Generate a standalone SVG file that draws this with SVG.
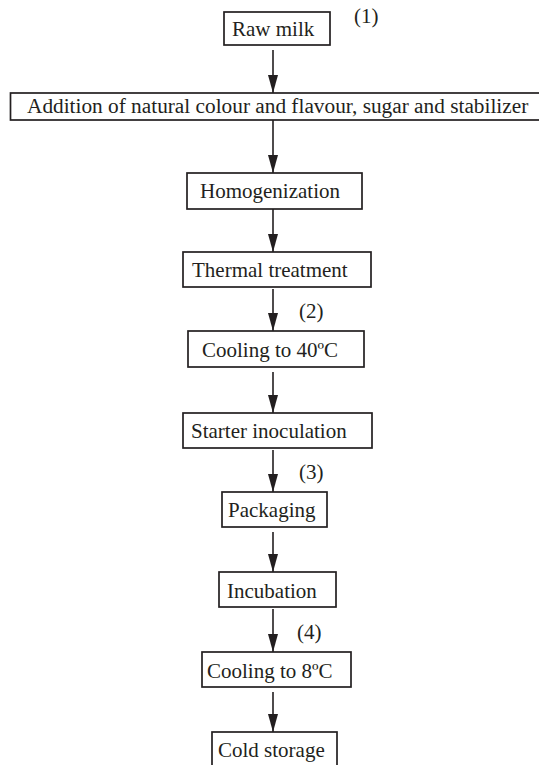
<svg xmlns="http://www.w3.org/2000/svg" width="539" height="765" viewBox="0 0 539 765">
<defs>
<style>
.box{fill:#fff;stroke:#231f20;stroke-width:1.7}
.t{font-family:"Liberation Serif","Times New Roman",serif;font-size:21px;fill:#231f20}
.c{stroke:#231f20;stroke-width:1.6;fill:none}
</style>
<marker id="ah" viewBox="0 0 18 10" refX="18" refY="5" markerWidth="18" markerHeight="10" markerUnits="userSpaceOnUse" orient="auto">
<path d="M0,0 L18,5 L0,10 z" fill="#231f20"/>
</marker>
</defs>
<rect width="539" height="765" fill="#fff"/>
<g id="connectors">
<line class="c" x1="273" y1="50" x2="273" y2="93" marker-end="url(#ah)"/>
<line class="c" x1="273" y1="120" x2="273" y2="173" marker-end="url(#ah)"/>
<line class="c" x1="273" y1="209" x2="273" y2="252" marker-end="url(#ah)"/>
<line class="c" x1="273" y1="289" x2="273" y2="331" marker-end="url(#ah)"/>
<line class="c" x1="273" y1="372" x2="273" y2="413" marker-end="url(#ah)"/>
<line class="c" x1="273" y1="450" x2="273" y2="492" marker-end="url(#ah)"/>
<line class="c" x1="273" y1="532" x2="273" y2="572" marker-end="url(#ah)"/>
<line class="c" x1="273" y1="609" x2="273" y2="652" marker-end="url(#ah)"/>
<line class="c" x1="273" y1="692" x2="273" y2="732" marker-end="url(#ah)"/>
</g>
<g id="raw-milk"><rect class="box" x="224" y="12" width="106" height="33"/><text class="t" x="232" y="36">Raw milk</text></g>
<text id="label-1" class="t" x="354" y="23">(1)</text>
<g id="addition"><rect class="box" x="10.5" y="93" width="535" height="27"/><text class="t" x="27" y="113" style="font-size:21.3px">Addition of natural colour and flavour, sugar and stabilizer</text></g>
<g id="homogenization"><rect class="box" x="187" y="173" width="175" height="36"/><text class="t" x="200" y="198">Homogenization</text></g>
<g id="thermal"><rect class="box" x="183" y="252" width="188" height="35"/><text class="t" x="192" y="277">Thermal treatment</text></g>
<text id="label-2" class="t" x="299" y="318">(2)</text>
<g id="cooling40"><rect class="box" x="188" y="331" width="176" height="36"/><text class="t" x="202" y="357">Cooling to 40ºC</text></g>
<g id="starter"><rect class="box" x="183" y="413" width="189" height="35"/><text class="t" x="191" y="438">Starter inoculation</text></g>
<text id="label-3" class="t" x="299" y="479">(3)</text>
<g id="packaging"><rect class="box" x="222" y="492" width="105" height="35"/><text class="t" x="228" y="517">Packaging</text></g>
<g id="incubation"><rect class="box" x="219" y="572" width="117" height="35"/><text class="t" x="227" y="598">Incubation</text></g>
<text id="label-4" class="t" x="297" y="639">(4)</text>
<g id="cooling8"><rect class="box" x="202" y="652" width="149" height="35"/><text class="t" x="207" y="678">Cooling to 8ºC</text></g>
<g id="cold-storage"><rect class="box" x="212" y="732" width="125" height="40"/><text class="t" x="218" y="757">Cold storage</text></g>
</svg>
